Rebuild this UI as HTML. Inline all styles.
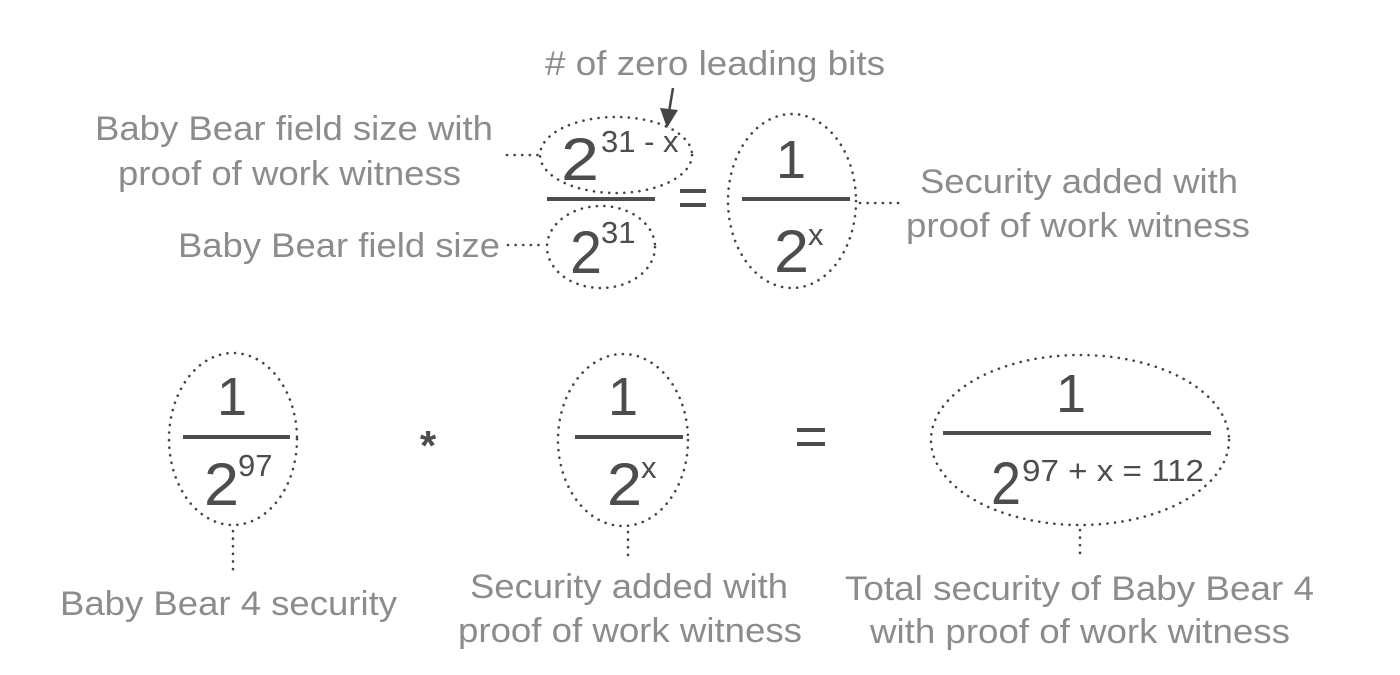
<!DOCTYPE html>
<html><head><meta charset="utf-8"><style>
html,body{margin:0;padding:0;background:#fff;}
svg{display:block;}
.l{font-family:"Liberation Sans",Arial,sans-serif;font-size:34px;fill:#8c8c8c;}
.m{font-family:"Liberation Sans",Arial,sans-serif;fill:#4d4d4d;}
.d{fill:none;stroke:#444;stroke-width:2.6;stroke-dasharray:0.1 7.5;stroke-linecap:round;}
.b{stroke:#4d4d4d;stroke-width:4;}
</style></head><body>
<svg width="1400" height="675" viewBox="0 0 1400 675" xmlns="http://www.w3.org/2000/svg">
<text class="l" x="545" y="75" textLength="340" lengthAdjust="spacingAndGlyphs">#  of zero leading bits</text>
<line x1="673" y1="88" x2="669" y2="112" stroke="#444" stroke-width="2.5"/>
<polygon points="660,108 678,110 667,128" fill="#444"/>
<text class="l" x="95" y="140" textLength="398" lengthAdjust="spacingAndGlyphs">Baby Bear field size with</text>
<text class="l" x="118" y="185" textLength="343" lengthAdjust="spacingAndGlyphs">proof of work witness</text>
<text class="l" x="178" y="257" textLength="322" lengthAdjust="spacingAndGlyphs">Baby Bear field size</text>
<text class="l" x="920" y="193" textLength="318" lengthAdjust="spacingAndGlyphs">Security added with</text>
<text class="l" x="906" y="237" textLength="344" lengthAdjust="spacingAndGlyphs">proof of work witness</text>
<line class="d" x1="507" y1="155" x2="540" y2="155"/>
<line class="d" x1="508" y1="245" x2="546" y2="245"/>
<line class="d" x1="860" y1="203" x2="905" y2="203"/>
<ellipse class="d" cx="616" cy="155" rx="76" ry="38"/>
<ellipse class="d" cx="601" cy="247" rx="54" ry="41"/>
<ellipse class="d" cx="792" cy="201" rx="64" ry="87"/>
<text class="m" x="561" y="180" font-size="60" textLength="38" lengthAdjust="spacingAndGlyphs">2</text>
<text class="m" x="601" y="152" font-size="31">31 - x</text>
<line class="b" x1="547" y1="199" x2="655" y2="199"/>
<text class="m" x="570" y="273" font-size="60" textLength="32" lengthAdjust="spacingAndGlyphs">2</text>
<text class="m" x="601" y="243" font-size="31">31</text>
<rect x="680" y="189" width="26" height="4" fill="#4d4d4d"/>
<rect x="680" y="203" width="26" height="4" fill="#4d4d4d"/>
<text class="m" x="791" y="178" font-size="54" text-anchor="middle">1</text>
<line class="b" x1="742" y1="199" x2="850" y2="199"/>
<text class="m" x="774" y="272" font-size="60" textLength="35" lengthAdjust="spacingAndGlyphs">2</text>
<text class="m" x="808" y="245" font-size="31">x</text>

<ellipse class="d" cx="233" cy="439" rx="64" ry="86"/>
<text class="m" x="232" y="415" font-size="54" text-anchor="middle">1</text>
<line class="b" x1="183" y1="437" x2="290" y2="437"/>
<text class="m" x="204" y="505" font-size="60" textLength="35" lengthAdjust="spacingAndGlyphs">2</text>
<text class="m" x="238" y="476" font-size="31">97</text>
<line class="d" x1="233" y1="531" x2="233" y2="575"/>
<text class="l" x="60" y="615" textLength="337" lengthAdjust="spacingAndGlyphs">Baby Bear 4 security</text>

<text class="m" x="428" y="460" font-size="42" font-weight="bold" text-anchor="middle">*</text>

<ellipse class="d" cx="623" cy="440" rx="65" ry="86"/>
<text class="m" x="623" y="415" font-size="54" text-anchor="middle">1</text>
<line class="b" x1="575" y1="437" x2="683" y2="437"/>
<text class="m" x="607" y="505" font-size="60" textLength="35" lengthAdjust="spacingAndGlyphs">2</text>
<text class="m" x="641" y="478" font-size="31">x</text>
<line class="d" x1="628" y1="532" x2="628" y2="555"/>
<text class="l" x="470" y="598" textLength="318" lengthAdjust="spacingAndGlyphs">Security added with</text>
<text class="l" x="458" y="642" textLength="344" lengthAdjust="spacingAndGlyphs">proof of work witness</text>

<rect x="797" y="428" width="28" height="4" fill="#4d4d4d"/>
<rect x="797" y="442" width="28" height="4" fill="#4d4d4d"/>

<ellipse class="d" cx="1080" cy="440" rx="149" ry="85"/>
<text class="m" x="1071" y="412" font-size="54" text-anchor="middle">1</text>
<line class="b" x1="943" y1="433" x2="1211" y2="433"/>
<text class="m" x="991" y="504" font-size="60" textLength="30" lengthAdjust="spacingAndGlyphs">2</text>
<text class="m" x="1022" y="481" font-size="31" textLength="182" lengthAdjust="spacingAndGlyphs">97 + x = 112</text>
<line class="d" x1="1080" y1="530" x2="1080" y2="555"/>
<text class="l" x="845" y="600" textLength="469" lengthAdjust="spacingAndGlyphs">Total security of Baby Bear 4</text>
<text class="l" x="870" y="643" textLength="420" lengthAdjust="spacingAndGlyphs">with proof of work witness</text>
</svg>
</body></html>
